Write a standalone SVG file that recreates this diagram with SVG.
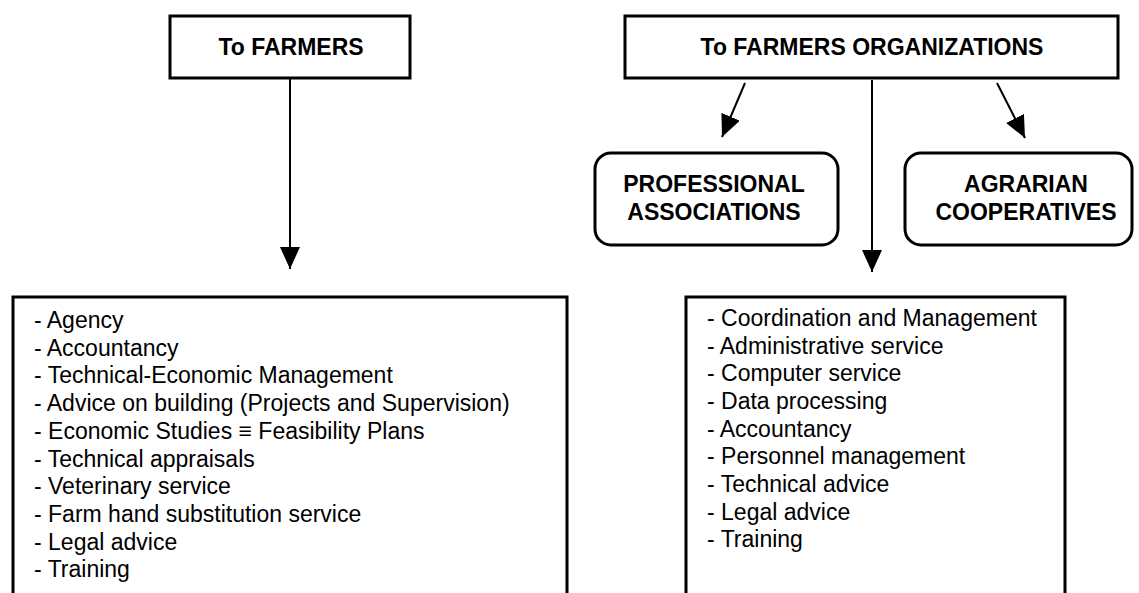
<svg xmlns="http://www.w3.org/2000/svg" width="1139" height="593" viewBox="0 0 1139 593">
<defs>
<style>
.box{fill:#fff;stroke:#000;stroke-width:3}
.rbox{fill:#fff;stroke:#000;stroke-width:3}
.hd{font-family:"Liberation Sans",Arial,sans-serif;font-weight:bold;font-size:23px;fill:#000;text-anchor:middle}
.it{font-family:"Liberation Sans",Arial,sans-serif;font-size:23px;fill:#000}
.ln{stroke:#000;stroke-width:2;fill:none}
</style>
<marker id="ahb" viewBox="0 0 22 20" refX="22" refY="10" markerWidth="22" markerHeight="20" markerUnits="userSpaceOnUse" orient="auto">
<path d="M0,0 L22,10 L0,20 z" fill="#000"/>
</marker>
</defs>
<rect width="1139" height="593" fill="#fff"/>
<g id="connectors">
<line class="ln" x1="290" y1="79" x2="290" y2="269" marker-end="url(#ahb)"/>
<line class="ln" x1="872" y1="80" x2="872" y2="272" marker-end="url(#ahb)"/>
<line class="ln" x1="745" y1="83" x2="722" y2="137" marker-end="url(#ahb)"/>
<line class="ln" x1="997" y1="83" x2="1025" y2="138" marker-end="url(#ahb)"/>
</g>
<g id="to-farmers">
<rect class="box" x="170" y="16" width="240" height="62"/>
<text class="hd" x="291" y="55">To FARMERS</text>
</g>
<g id="to-farmers-org">
<rect class="box" x="625" y="16" width="493" height="62"/>
<text class="hd" x="872" y="55">To FARMERS ORGANIZATIONS</text>
</g>
<g id="professional">
<rect class="rbox" x="595" y="153" width="243" height="92" rx="16"/>
<text class="hd" x="714" y="192">PROFESSIONAL</text>
<text class="hd" x="714" y="220">ASSOCIATIONS</text>
</g>
<g id="agrarian">
<rect class="rbox" x="905" y="153" width="227" height="92" rx="16"/>
<text class="hd" x="1026" y="192">AGRARIAN</text>
<text class="hd" x="1026" y="220">COOPERATIVES</text>
</g>
<g id="farmers-services">
<path class="box" d="M13,600 L13,297 L567,297 L567,600"/>
<text class="it" x="34" y="328">- Agency</text>
<text class="it" x="34" y="356">- Accountancy</text>
<text class="it" x="34" y="383">- Technical-Economic Management</text>
<text class="it" x="34" y="411">- Advice on building (Projects and Supervision)</text>
<text class="it" x="34" y="439">- Economic Studies ≡ Feasibility Plans</text>
<text class="it" x="34" y="467">- Technical appraisals</text>
<text class="it" x="34" y="494">- Veterinary service</text>
<text class="it" x="34" y="522">- Farm hand substitution service</text>
<text class="it" x="34" y="550">- Legal advice</text>
<text class="it" x="34" y="577">- Training</text>
</g>
<g id="org-services">
<path class="box" d="M686,600 L686,297 L1065,297 L1065,600"/>
<text class="it" x="707" y="326">- Coordination and Management</text>
<text class="it" x="707" y="354">- Administrative service</text>
<text class="it" x="707" y="381">- Computer service</text>
<text class="it" x="707" y="409">- Data processing</text>
<text class="it" x="707" y="437">- Accountancy</text>
<text class="it" x="707" y="464">- Personnel management</text>
<text class="it" x="707" y="492">- Technical advice</text>
<text class="it" x="707" y="520">- Legal advice</text>
<text class="it" x="707" y="547">- Training</text>
</g>
</svg>
